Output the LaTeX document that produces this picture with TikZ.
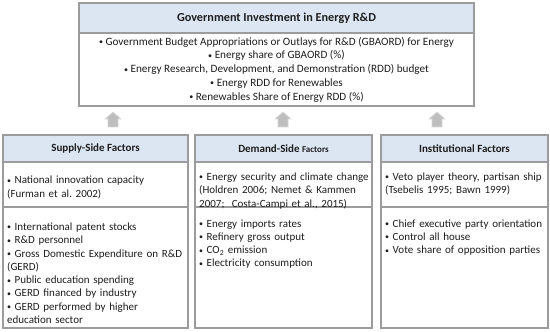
\documentclass[tikz,border=0pt]{standalone}
\usepackage{fontspec}
\setmainfont{Carlito}
\usepackage{tikz}
\usetikzlibrary{positioning}
\usepackage{xcolor}
\definecolor{headblue}{HTML}{DCE6F2}
\definecolor{framegray}{HTML}{9C9C9C}
\definecolor{arrowgray}{HTML}{BEBEBE}
\definecolor{txtgray}{HTML}{1E1E1E}
\frenchspacing
\newcommand{\smbul}{\raisebox{0.6pt}{\scalebox{0.72}{\textbullet}}}
\newcommand{\itm}[1]{\par\hangindent=7.5pt\hangafter=1\noindent\makebox[7.5pt][l]{\smbul}#1}

\begin{document}
\begin{tikzpicture}[x=1pt,y=1pt,text=txtgray,
  font=\fontsize{11}{13.3}\selectfont,
  head/.style={draw=framegray,line width=1.2pt,fill=headblue,inner sep=0pt,outer sep=0pt,
    font=\fontsize{11}{13.3}\selectfont\bfseries},
  sect/.style={draw=framegray,line width=1.2pt,fill=white,inner sep=0pt,outer sep=0pt},
  itemtext/.style={anchor=north west,inner sep=0pt,align=left},
  blockarrow/.style={draw=arrowgray!60,fill=arrowgray,line width=0.6pt}]
  \useasboundingbox (0,0) rectangle (550,332);
  % government box
  \node[head,minimum width=395pt,minimum height=30pt,font=\fontsize{12.2}{14}\selectfont\bfseries] (gov)
    at (276.5,314) {Government Investment in Energy R\&D};
  \node[sect,minimum width=395pt,minimum height=73pt,below=0pt of gov,align=center,
    font=\fontsize{11.2}{13.8}\selectfont] (govlist)
    {\smbul\ Government Budget Appropriations or Outlays for R\&D (GBAORD) for Energy\\
     \smbul\ Energy share of GBAORD (\%)\\
     \smbul\ Energy Research, Development, and Demonstration (RDD) budget\\
     \smbul\ Energy RDD for Renewables\\
     \smbul\ Renewables Share of Energy RDD (\%)};
  % arrows
  \coordinate (arrsupply) at (113,205);
  \coordinate (arrdemand) at (283,205);
  \coordinate (arrinst) at (437,205);
  \foreach \a in {arrsupply,arrdemand,arrinst}
    \draw[blockarrow] (\a) ++(-5,0) -- ++(0,8) -- ++(-3,0) -- ++(8,7) -- ++(8,-7)
      -- ++(-3,0) -- ++(0,-8) -- cycle;
  % supply side
  \node[head,minimum width=185pt,minimum height=27pt] (supply) at (95.5,183.5) {Supply-Side Factors};
  \node[sect,minimum width=185pt,minimum height=45pt,below=0pt of supply] (supplymid) {};
  \node[sect,minimum width=185pt,minimum height=121pt,below=0pt of supplymid] (supplylow) {};
  \node[itemtext,text width=178pt] (supplycite) at ([shift={(4,-8.3)}]supplymid.north west)
    {\itm{National innovation capacity\\(Furman et al. 2002)}};
  \node[itemtext,text width=178pt] (supplyvars) at ([shift={(4,-10)}]supplylow.north west)
    {\itm{International patent stocks}
     \itm{R\&D personnel}
     \itm{Gross Domestic Expenditure on R\&D\\(GERD)}
     \itm{Public education spending}
     \itm{GERD financed by industry}
     \itm{GERD performed by higher\\education sector}};
  % demand side
  \node[head,minimum width=177pt,minimum height=27pt] (demand) at (283.5,183.5)
    {Demand-Side {\fontsize{9}{11}\selectfont Factors}};
  \node[sect,minimum width=177pt,minimum height=45pt,below=0pt of demand] (demandmid) {};
  \node[sect,minimum width=177pt,minimum height=121pt,below=0pt of demandmid] (demandlow) {};
  \node[itemtext,text width=172pt] (demandcite) at ([shift={(4,-5)}]demandmid.north west)
    {\itm{Energy security and climate change\\(Holdren 2006; Nemet \& Kammen\\2007;\ \ Costa-Campi et al., 2015)}};
  \node[itemtext,text width=172pt] (demandvars) at ([shift={(4,-6.6)}]demandlow.north west)
    {\itm{Energy imports rates}
     \itm{Refinery gross output}
     \itm{CO\textsubscript{2} emission}
     \itm{Electricity consumption}};
  % institutional
  \node[head,minimum width=167pt,minimum height=27pt] (inst) at (464.5,183.5) {Institutional Factors};
  \node[sect,minimum width=167pt,minimum height=45pt,below=0pt of inst] (instmid) {};
  \node[sect,minimum width=167pt,minimum height=121pt,below=0pt of instmid] (instlow) {};
  \node[itemtext,text width=162pt] (instcite) at ([shift={(4,-5)}]instmid.north west)
    {\itm{Veto player theory, partisan ship\\(Tsebelis 1995; Bawn 1999)}};
  \node[itemtext,text width=162pt] (instvars) at ([shift={(4,-6.6)}]instlow.north west)
    {\itm{Chief executive party orientation}
     \itm{Control all house}
     \itm{Vote share of opposition parties}};
\end{tikzpicture}
\end{document}
